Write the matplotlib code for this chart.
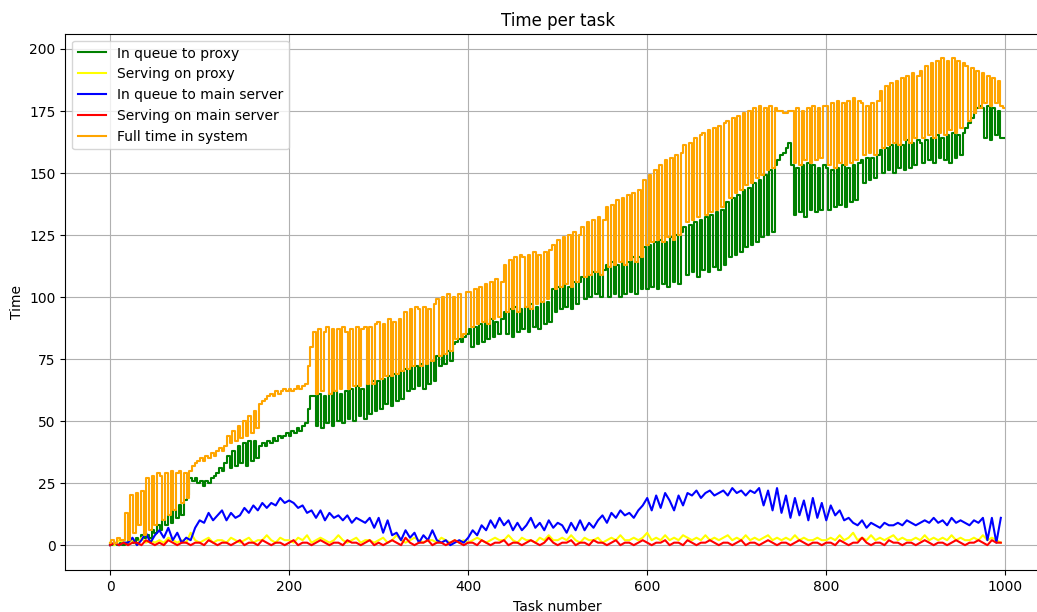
import numpy as np
import matplotlib
matplotlib.use("Agg")
import matplotlib.pyplot as plt

# Per-task timings (sampled every 3 tasks for the proxy queue / full time,
# every 5 tasks for the remaining components)
full_time = [
    1, 2, 1, 3, 2, 2,
    13, 2,
    20, 5, 21, 8, 22, 4,
    27, 6, 28, 8, 29, 28, 10, 29, 12, 30, 14, 29, 30, 17, 29, 19,
    30, 32, 33, 34, 35, 34, 36, 35, 37, 36, 38, 39, 38, 40,
    44, 41, 46, 42, 48, 43, 50, 44, 52, 45, 54, 47,
    57, 58, 59, 60, 61, 60, 62, 61, 62, 63, 62, 63, 62, 63, 64, 63, 64, 65,
    72, 80,
    86, 61, 87, 62, 86, 88, 61, 87, 62, 87, 63, 88, 86, 63, 87, 64, 88, 64, 87, 88, 65, 88, 65, 89,
    90, 67, 89, 68, 91, 68, 90, 69, 91, 70,
    94, 71, 95, 72, 96, 95, 72, 96, 73, 95, 74, 97,
    99, 76, 100, 77, 101, 78,
    100, 83, 101, 84, 85, 102,
    102, 88, 103, 89, 104, 90, 105, 89, 106, 91, 107, 92, 106,
    113, 94, 115, 95, 116, 94, 117, 116, 96, 117, 95, 118, 97, 117, 98, 118, 99, 119,
    121, 103, 123, 104, 124, 105, 125, 104, 126, 106, 125,
    128, 108, 130, 109, 131, 110, 132, 109, 131,
    136, 112, 137, 113, 139, 114, 140, 113, 141, 115, 142, 114, 143, 116,
    147, 121, 149, 122, 151, 123, 153, 122, 155, 124, 156, 123, 157, 125, 158,
    161, 130, 162, 131, 164, 132, 165, 166, 133, 167, 134, 168, 135, 169, 136, 170,
    171, 140, 172, 142, 173, 143, 174, 145, 175, 146, 176, 148, 177, 149, 176, 151, 177, 152,
    176, 175, 175, 174, 174, 175,
    175, 154, 176, 153, 175, 155, 176, 154, 177, 155, 176, 156, 177,
    177, 153, 178, 152, 179, 154, 178, 153, 179, 154, 180, 155, 179,
    178, 157, 177, 158, 178, 157, 179,
    183, 160, 185, 161, 186, 162, 187, 161, 188, 163, 189, 162, 190, 164, 189,
    191, 164, 193, 165, 194, 164, 195, 166, 196, 165, 195, 167, 196, 166, 195, 168, 194,
    193, 171, 192, 174, 191, 176,
    190, 178, 189, 177, 188, 178, 187, 177, 176,
]

queue_proxy = [
    0, 0, 1, 0, 1, 0,
    1, 2,
    2, 1, 3, 2, 4, 3,
    4, 3, 6, 5, 8, 6, 10, 8, 12, 9, 14, 11, 16, 12, 18, 20,
    27, 26, 27, 25, 26, 24, 26, 25, 27, 28, 29, 31, 30, 33,
    36, 31, 38, 32, 40, 33, 41, 32, 42, 34, 42, 35,
    40, 41, 40, 42, 41, 43, 42, 44, 43, 44, 45, 44, 46, 45, 47, 46, 48, 49,
    55, 60,
    60, 48, 61, 47, 60, 49, 61, 48, 62, 50, 61, 49, 62, 51, 63, 50, 64, 52, 63, 51, 65, 53, 66, 54,
    66, 55, 67, 57, 68, 56, 69, 58, 70, 59,
    71, 62, 72, 63, 72, 64, 73, 63, 74, 65, 74, 66,
    76, 72, 77, 73, 78, 74,
    81, 82, 83, 82, 84, 85,
    87, 80, 88, 81, 89, 82, 90, 83, 91, 84, 90, 85, 91,
    94, 85, 95, 84, 96, 86, 95, 87, 96, 86, 97, 88, 96, 87, 98, 89, 98, 90,
    103, 94, 104, 95, 105, 96, 104, 95, 106, 97, 106,
    108, 99, 109, 100, 110, 101, 110, 100, 111,
    113, 100, 114, 101, 113, 100, 115, 101, 114, 102, 116, 101, 116, 103,
    120, 103, 121, 104, 122, 103, 123, 105, 122, 104, 124, 106, 125, 105, 126,
    128, 109, 129, 110, 130, 108, 131, 111, 132, 110, 133, 112, 134, 111, 135, 113,
    138, 116, 140, 117, 141, 118, 143, 120, 144, 121, 146, 122, 147, 124, 149, 125, 151, 126,
    153, 155, 157, 158, 160, 162,
    153, 133, 152, 134, 153, 132, 154, 135, 153, 134, 152, 135, 153,
    152, 135, 151, 136, 152, 137, 153, 136, 152, 138, 153, 139, 154,
    155, 146, 156, 147, 156, 148, 157,
    159, 150, 160, 151, 161, 150, 162, 152, 161, 151, 163, 152, 162, 153, 163,
    162, 154, 163, 155, 164, 154, 165, 156, 164, 155, 165, 154, 166, 156, 165, 157, 166,
    168, 170, 172, 174, 176, 177,
    176, 164, 177, 163, 176, 165, 175, 164, 164,
]

queue_main = [
    0, 1, 0, 1,
    1, 3, 0, 2, 5, 1, 4, 6, 3, 7, 2, 5, 1, 3, 2,
    7, 10,
    9, 13, 10, 12, 14, 10, 13, 11,
    12, 15, 13, 16, 14, 17, 15, 17, 16,
    19, 17, 18,
    17, 15, 16, 13, 14,
    11, 14, 10, 13, 11, 12,
    10, 12, 9, 11, 10, 9, 11,
    7, 11, 5, 10, 4,
    5, 2, 6, 3, 5, 1, 4, 2, 6, 2,
    1, 2, 0, 1, 2, 1,
    3, 6, 4, 8, 6, 10, 7, 11, 8,
    10, 6, 9, 6, 8, 11, 7, 9, 6, 10, 7, 9,
    8, 5, 9, 6, 10, 6, 9, 7,
    10, 12, 9, 13, 11, 14, 12, 13, 11, 14, 16,
    19, 14, 20, 15, 21, 18, 14, 20, 16, 21,
    20, 22, 19, 21, 22, 20, 21, 22, 20, 23, 21, 22, 20, 22, 21,
    23, 16, 22, 14, 23, 13,
    20, 11, 19, 12, 18, 10, 19, 11, 17, 10, 16, 12, 14, 10, 11,
    9, 8, 10, 7, 9, 8, 7, 9, 8,
    8, 9, 8, 10, 9, 8, 9, 10, 9, 11, 9, 10, 8, 11, 9, 10, 9, 8, 10, 9,
    11, 2, 11, 1, 11,
]

serving_proxy = [
    1, 0, 2, 1, 1, 2, 0, 3, 1, 2, 1, 2, 1, 3, 2, 1, 2, 1, 5, 2,
    1, 2, 3, 1, 2, 2, 1, 3, 2, 1, 2, 3, 1, 2, 2, 4, 2, 1, 3, 2,
    2, 1, 3, 2, 4, 1, 2, 3, 2, 1, 2, 4, 2, 1, 2, 3, 1, 2, 2, 1,
    2, 3, 1, 2, 4, 2, 1, 2, 3, 2, 1, 2, 2, 1, 3, 2, 1, 2, 1, 2,
    1, 2, 3, 2, 1, 2, 3, 2, 2, 4, 2, 1, 3, 2, 2, 1, 3, 2, 4, 2,
    2, 3, 2, 4, 2, 1, 3, 2, 2, 3, 1, 2, 3, 2, 4, 2, 2, 3, 2, 3,
    5, 2, 3, 2, 4, 2, 3, 2, 4, 3, 2, 3, 2, 4, 2, 3, 2, 3, 4, 2,
    3, 2, 4, 2, 3, 2, 3, 4, 2, 3, 2, 3, 2, 4, 2, 3, 2, 2, 3, 2,
    2, 3, 2, 4, 2, 3, 5, 2, 3, 2, 4, 2, 3, 2, 3, 4, 2, 3, 2, 2,
    3, 2, 4, 2, 3, 2, 3, 2, 4, 2, 3, 2, 2, 3, 2, 4, 2, 3, 2, 1,
]

serving_main = [
    0, 1, 0, 1, 0, 1, 1, 0, 2, 1, 0, 1, 0, 2, 1, 0, 1, 1, 0, 1,
    1, 0, 2, 1, 0, 1, 1, 0, 1, 2, 0, 1, 1, 0, 2, 1, 0, 1, 1, 0,
    1, 2, 0, 1, 1, 0, 1, 2, 1, 0, 1, 1, 0, 2, 1, 1, 0, 1, 2, 0,
    1, 0, 1, 2, 1, 0, 3, 1, 0, 1, 1, 2, 0, 1, 1, 0, 1, 2, 1, 0,
    1, 1, 0, 2, 1, 0, 1, 1, 2, 0, 1, 1, 0, 1, 2, 1, 0, 1, 3, 1,
    0, 1, 1, 2, 0, 1, 1, 0, 2, 1, 1, 0, 1, 2, 0, 1, 1, 0, 1, 2,
    1, 0, 1, 1, 2, 0, 1, 1, 0, 2, 1, 0, 1, 1, 2, 1, 0, 1, 1, 0,
    1, 2, 0, 1, 1, 0, 1, 2, 1, 0, 1, 1, 0, 1, 2, 1, 0, 1, 1, 0,
    1, 1, 0, 2, 1, 0, 1, 1, 3, 1, 0, 1, 1, 0, 2, 1, 1, 0, 1, 1,
    0, 1, 2, 1, 0, 1, 1, 0, 1, 2, 1, 0, 1, 1, 2, 1, 0, 2, 1, 1,
]

labels = ["In queue to proxy", "Serving on proxy", "In queue to main server",
          "Serving on main server", "Full time in system"]
colors = ["green", "yellow", "blue", "red", "orange"]

task_fine = np.arange(len(full_time)) * 3
task_coarse = np.arange(len(queue_main)) * 5

fig = plt.figure(figsize=(10.374, 6.124), dpi=100)
# The plot area runs past the right edge of the canvas, so its right border is cut off
ax = fig.add_axes([0.063, 0.0686, 0.9492, 0.8758])
ax.patch.set_visible(False)

ax.plot(task_fine, queue_proxy, color=colors[0], label=labels[0], lw=1.5,
        drawstyle="steps-mid")
ax.plot(task_coarse, serving_proxy, color=colors[1], label=labels[1], lw=1.5)
ax.plot(task_coarse, queue_main, color=colors[2], label=labels[2], lw=1.5)
ax.plot(task_coarse, serving_main, color=colors[3], label=labels[3], lw=1.5)
ax.plot(task_fine, full_time, color=colors[4], label=labels[4], lw=1.5,
        drawstyle="steps-mid")

ax.set_xlim(-50, 1050)
ax.set_ylim(-10, 206)
ax.set_yticks([0, 25, 50, 75, 100, 125, 150, 175, 200])
ax.set_xticks([0, 200, 400, 600, 800, 1000])
ax.spines["right"].set_visible(False)
ax.grid(True)
ax.set_title("Time per task")
ax.set_xlabel("Task number")
ax.set_ylabel("Time")
ax.legend(loc="upper left")

fig.savefig("out.png", dpi=100)
